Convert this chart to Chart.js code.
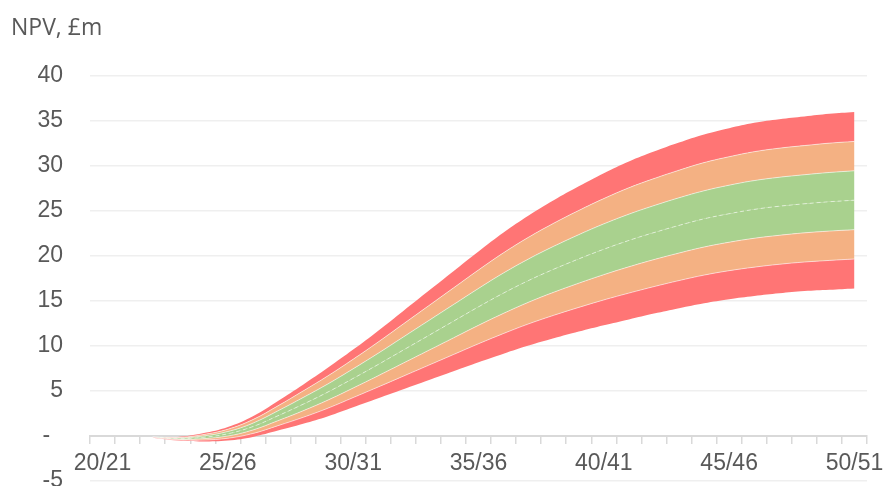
<!DOCTYPE html>
<html>
<head>
<meta charset="utf-8">
<script src="https://cdn.jsdelivr.net/npm/chart.js@4/dist/chart.umd.min.js"></script>
<style>
 html, body { margin: 0; padding: 0; background: #fff; overflow: hidden; }
 #wrap { width: 885px; height: 500px; position: relative; }
</style>
</head>
<body>
<div id="wrap"><canvas id="npvChart"></canvas></div>
<script>
const years = []
for (let y = 20; y <= 50; y++) years.push(y + "/" + (y + 1))

const yTicks = [-5, 0, 5, 10, 15, 20, 25, 30, 35, 40]

// fan boundaries, bottom to top (NPV, £m)
const low3 = [null, null, -0.2, -0.5, -0.6, -0.5, -0.1, 0.6, 1.35, 2.2, 3.2, 4.2, 5.2, 6.2, 7.2, 8.2, 9.15, 10.05, 10.85, 11.6, 12.3, 12.95, 13.6, 14.2, 14.75, 15.2, 15.55, 15.85, 16.1, 16.25, 16.4]
const low2 = [null, null, -0.18, -0.43, -0.45, -0.25, 0.28, 1.15, 2.07, 3.1, 4.27, 5.45, 6.65, 7.85, 9.05, 10.25, 11.39, 12.46, 13.41, 14.29, 15.12, 15.88, 16.6, 17.27, 17.88, 18.37, 18.76, 19.08, 19.33, 19.51, 19.67]
const low1 = [null, null, -0.17, -0.37, -0.3, 0.0, 0.67, 1.7, 2.8, 4.0, 5.33, 6.7, 8.1, 9.5, 10.9, 12.3, 13.63, 14.87, 15.97, 16.98, 17.93, 18.8, 19.6, 20.33, 21.0, 21.53, 21.97, 22.3, 22.57, 22.77, 22.93]
const mid = [null, null, -0.15, -0.3, -0.15, 0.25, 1.05, 2.25, 3.53, 4.9, 6.4, 7.95, 9.55, 11.15, 12.75, 14.35, 15.88, 17.28, 18.53, 19.68, 20.75, 21.73, 22.6, 23.4, 24.13, 24.7, 25.18, 25.53, 25.8, 26.03, 26.2]
const up1 = [null, null, -0.13, -0.23, 0.0, 0.5, 1.43, 2.8, 4.27, 5.8, 7.47, 9.2, 11.0, 12.8, 14.6, 16.4, 18.12, 19.68, 21.08, 22.37, 23.57, 24.65, 25.6, 26.47, 27.25, 27.87, 28.38, 28.75, 29.03, 29.28, 29.47]
const up2 = [null, null, -0.12, -0.17, 0.15, 0.75, 1.82, 3.35, 5.0, 6.7, 8.53, 10.45, 12.45, 14.45, 16.45, 18.45, 20.36, 22.09, 23.64, 25.06, 26.38, 27.58, 28.6, 29.53, 30.38, 31.03, 31.59, 31.98, 32.27, 32.54, 32.73]
const up3 = [null, null, -0.1, -0.1, 0.3, 1.0, 2.2, 3.9, 5.7, 7.6, 9.6, 11.7, 13.9, 16.1, 18.3, 20.5, 22.6, 24.5, 26.2, 27.75, 29.2, 30.5, 31.6, 32.6, 33.5, 34.2, 34.8, 35.2, 35.5, 35.8, 36.0]

const RED = "#FF7575"
const ORANGE = "#F4B183"
const GREEN = "#A9D18E"
const edge = "rgba(255,255,255,0.55)"

function band(data, colour, border, dash) {
 return {
  data: data,
  fill: colour ? "-1" : false,
  backgroundColor: colour || "transparent",
  borderColor: border || "transparent",
  borderWidth: border ? 1 : 0,
  borderDash: dash || [],
  pointRadius: 0,
  tension: 0.4
 }
}

const titlePlugin = {
 id: "npvTitle",
 afterDraw(chart) {
  const ctx = chart.ctx
  ctx.save()
  ctx.font = '23px "Open Sans"'
  ctx.fillStyle = "#595959"
  ctx.textBaseline = "alphabetic"
  ctx.fillText("NPV, £m", 11, 35)
  ctx.restore()
 }
}

new Chart(document.getElementById("npvChart"), {
 type: "line",
 data: {
  labels: years,
  datasets: [
   band(low3, null, null),
   band(low2, RED, edge),
   band(low1, ORANGE, edge),
   band(mid, GREEN, edge, [4, 3]),
   band(up1, GREEN, edge),
   band(up2, ORANGE, edge),
   band(up3, RED, null)
  ]
 },
 plugins: [titlePlugin],
 options: {
  responsive: true,
  maintainAspectRatio: false,
  animation: false,
  layout: { padding: { top: 76, bottom: 19, left: 0, right: 18 } },
  plugins: { legend: { display: false }, tooltip: { enabled: false } },
  scales: {
   x: {
    type: "category",
    position: { y: 0 },
    offset: true,
    afterFit: s => { s.paddingLeft = 0; s.paddingRight = 0 },
    grid: { drawOnChartArea: false, drawTicks: true, tickLength: 7, color: "#d9d9d9", lineWidth: 1.5, offset: true },
    border: { color: "#d9d9d9", width: 2 },
    ticks: {
     autoSkip: false,
     maxRotation: 0,
     padding: 7,
     color: "#595959",
     font: { family: '"Liberation Sans", Arial', size: 23 },
     callback: (v, i) => i % 5 === 0 ? years[i] : ""
    }
   },
   y: {
    min: -5,
    max: 40,
    afterBuildTicks: s => { s.ticks = yTicks.map(v => ({ value: v })) },
    afterFit: s => { s.width = 90; s.paddingTop = 0; s.paddingBottom = 0 },
    grid: { color: "#efefef", lineWidth: 1.5, drawTicks: false },
    border: { display: false },
    ticks: {
     padding: 27,
     color: "#595959",
     font: { family: '"Liberation Sans", Arial', size: 23 },
     callback: v => v === 0 ? "-  " : v
    }
   }
  }
 }
})
</script>
</body>
</html>
